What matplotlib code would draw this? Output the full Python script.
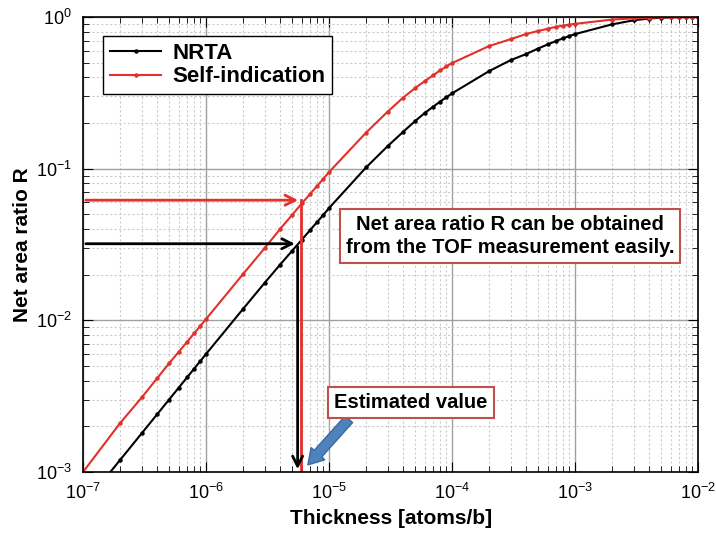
import matplotlib
matplotlib.use("Agg")
import matplotlib.pyplot as plt
from matplotlib.ticker import LogLocator, NullFormatter

plt.rcParams['font.family'] = ['Liberation Sans', 'DejaVu Sans']
plt.rcParams['mathtext.fontset'] = 'custom'
plt.rcParams['mathtext.rm'] = 'Liberation Sans'
plt.rcParams['mathtext.it'] = 'Liberation Sans:italic'
plt.rcParams['mathtext.bf'] = 'Liberation Sans:bold'

# thickness [atoms/b]
thickness = [
    1e-7, 2e-7, 3e-7, 4e-7, 5e-7, 6e-7, 7e-7, 8e-7, 9e-7,
    1e-6, 2e-6, 3e-6, 4e-6, 5e-6, 6e-6, 7e-6, 8e-6, 9e-6,
    1e-5, 2e-5, 3e-5, 4e-5, 5e-5, 6e-5, 7e-5, 8e-5, 9e-5,
    1e-4, 2e-4, 3e-4, 4e-4, 5e-4, 6e-4, 7e-4, 8e-4, 9e-4,
    1e-3, 2e-3, 3e-3, 4e-3, 5e-3, 6e-3, 7e-3, 8e-3, 9e-3,
    1e-2,
]

# net area ratio R
r_nrta = [
    6.0e-4, 1.2e-3, 1.8e-3, 2.4e-3, 3.0e-3, 3.6e-3, 4.2e-3, 4.8e-3, 5.4e-3,
    6.0e-3, 1.19e-2, 1.77e-2, 2.33e-2, 2.87e-2, 3.4e-2, 3.93e-2, 4.45e-2, 4.97e-2,
    0.055, 0.102, 0.141, 0.175, 0.206, 0.233, 0.256, 0.277, 0.296,
    0.314, 0.44, 0.52, 0.57, 0.62, 0.66, 0.695, 0.725, 0.75,
    0.772, 0.895, 0.952, 0.978, 0.99, 0.995, 0.998, 0.999, 1.0,
    1.0,
]

r_self = [
    1.0e-3, 2.1e-3, 3.1e-3, 4.15e-3, 5.2e-3, 6.2e-3, 7.2e-3, 8.2e-3, 9.2e-3,
    1.02e-2, 2.02e-2, 3.0e-2, 4.0e-2, 4.95e-2, 5.9e-2, 6.8e-2, 7.7e-2, 8.6e-2,
    0.095, 0.173, 0.238, 0.294, 0.340, 0.378, 0.413, 0.445, 0.472,
    0.497, 0.644, 0.715, 0.773, 0.809, 0.838, 0.862, 0.878, 0.892,
    0.902, 0.962, 0.980, 0.990, 0.995, 0.997, 0.998, 0.999, 1.0,
    1.0,
]

# read-off values for the arrows
est_r_nrta = 0.032
est_r_self = 0.062
est_t_nrta = 5.55e-6
est_t_self = 5.9e-6

red = '#e2302a'
box_red = '#c0504d'

fig = plt.figure(figsize=(7.16, 5.36), dpi=100)
ax = fig.add_axes([0.116, 0.1194, 0.859, 0.8488])

ax.plot(thickness, r_nrta, color='black', lw=1.5, marker='o', ms=2.2, label='NRTA')
ax.plot(thickness, r_self, color=red, lw=1.5, marker='o', ms=2.2, label='Self-indication')

ax.set_xscale('log')
ax.set_yscale('log')
ax.set_xlim(1e-7, 1e-2)
ax.set_ylim(1e-3, 1)

ax.xaxis.set_minor_locator(LogLocator(base=10, subs=range(2, 10), numticks=20))
ax.yaxis.set_minor_locator(LogLocator(base=10, subs=range(2, 10), numticks=20))
ax.xaxis.set_minor_formatter(NullFormatter())
ax.yaxis.set_minor_formatter(NullFormatter())

ax.grid(which='major', color='#a0a0a0', lw=1.0, ls='-')
ax.grid(which='minor', color='#cccccc', lw=0.8, ls=(0, (2, 2)))
ax.set_axisbelow(True)

ax.tick_params(which='both', direction='in', top=True, right=True)
ax.tick_params(which='major', length=7, labelsize=13, pad=8)
ax.tick_params(which='minor', length=4)
for s in ax.spines.values():
    s.set_linewidth(1.2)

ax.set_xlabel('Thickness [atoms/b]', fontsize=15, fontweight='bold', labelpad=4)
ax.set_ylabel('Net area ratio R', fontsize=15, fontweight='bold', labelpad=3)

leg = ax.legend(loc='upper left', bbox_to_anchor=(0.033, 0.958),
                prop={'size': 16, 'weight': 'bold'},
                fancybox=False, edgecolor='black', framealpha=1,
                handlelength=2.3, handletextpad=0.5, borderpad=0.3,
                labelspacing=0.12, borderaxespad=0)
leg.get_frame().set_linewidth(1.0)

# read-off arrows
ax.annotate('', xy=(est_t_self, est_r_self), xytext=(1e-7, est_r_self),
            arrowprops=dict(arrowstyle='->', color=red, lw=2, mutation_scale=18))
ax.plot([est_t_self, est_t_self], [est_r_self, 1e-3], color=red, lw=2)
ax.annotate('', xy=(est_t_nrta, est_r_nrta), xytext=(1e-7, est_r_nrta),
            arrowprops=dict(arrowstyle='->', color='black', lw=2, mutation_scale=18))
ax.annotate('', xy=(est_t_nrta, 1e-3), xytext=(est_t_nrta, est_r_nrta),
            arrowprops=dict(arrowstyle='->', color='black', lw=2, mutation_scale=18))

# blue arrow from the label
ax.annotate('', xy=(6.5e-6, 1.08e-3), xytext=(1.5e-5, 2.3e-3),
            arrowprops=dict(arrowstyle='simple,head_width=1.1,head_length=0.9,tail_width=0.6',
                            fc='#4f81bd', ec='#3a6aa0', mutation_scale=12))

ax.text(0.694, 0.519, 'Net area ratio R can be obtained\nfrom the TOF measurement easily.',
        transform=ax.transAxes, fontsize=14.5, fontweight='bold', ha='center', va='center',
        linespacing=1.25,
        bbox=dict(boxstyle='square,pad=0.3', fc='white', ec=box_red, lw=1.5))
ax.text(0.533, 0.153, 'Estimated value', transform=ax.transAxes, fontsize=14.5,
        fontweight='bold', ha='center', va='center',
        bbox=dict(boxstyle='square,pad=0.3', fc='white', ec=box_red, lw=1.5))

fig.savefig('out.png', dpi=100)
